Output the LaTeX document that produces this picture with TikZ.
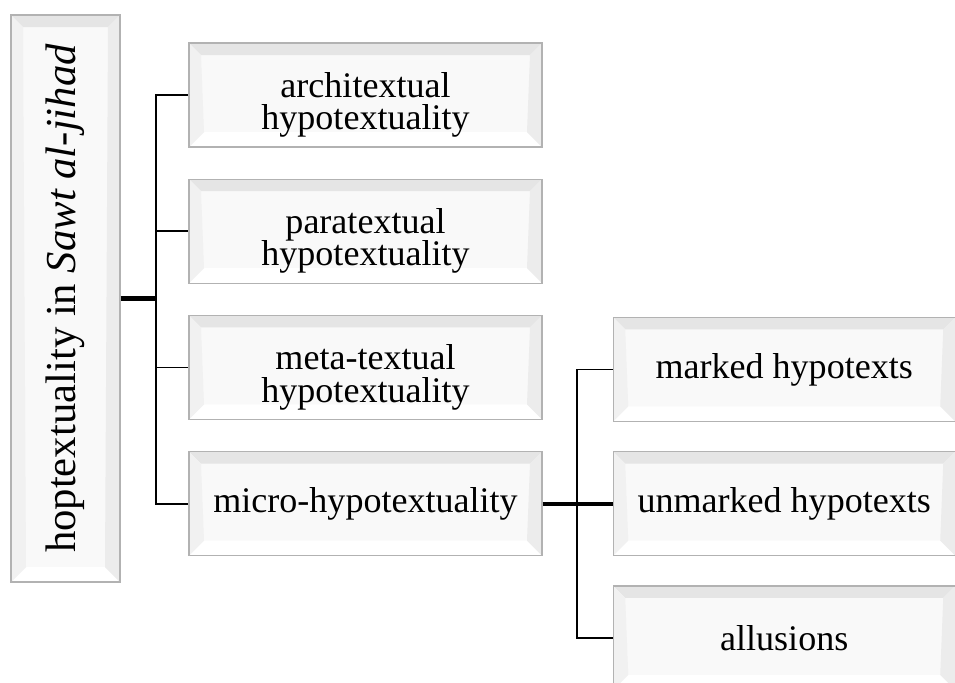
\documentclass[tikz,border=0pt]{standalone}
\usepackage{fontspec}
\setmainfont{Liberation Serif}
\usetikzlibrary{calc,positioning}
\newcommand{\boxfont}{\fontsize{20.5}{24}\selectfont}
\newcommand{\rootfont}{\fontsize{24.3}{26}\selectfont}
\newcommand{\twoline}[2]{\raisebox{-0.2cm}[\height][\depth]{\begin{tabular}{@{}c@{}}#1\\[-5.5pt]#2\end{tabular}}}
\tikzstyle{bevelbox}=[
    draw=gray!60, line width=0.7pt, fill=gray!5, inner sep=0pt,
    align=center, font=\boxfont,
    path picture={
        \coordinate (nw) at (path picture bounding box.north west);
        \coordinate (ne) at (path picture bounding box.north east);
        \coordinate (sw) at (path picture bounding box.south west);
        \coordinate (se) at (path picture bounding box.south east);
        \fill[gray!20] (nw) -- (ne) -- ($(ne)+(-0.24,-0.24)$) -- ($(nw)+(0.24,-0.24)$) -- cycle;
        \fill[white] (sw) -- (se) -- ($(se)+(-0.3,0.3)$) -- ($(sw)+(0.3,0.3)$) -- cycle;
        \fill[gray!11] (nw) -- ($(nw)+(0.24,-0.24)$) -- ($(sw)+(0.3,0.3)$) -- (sw) -- cycle;
        \fill[gray!15] (ne) -- ($(ne)+(-0.24,-0.24)$) -- ($(se)+(-0.3,0.3)$) -- (se) -- cycle;
    }]
\tikzstyle{mainbox}=[bevelbox, minimum width=7.06cm, minimum height=2.08cm]
\tikzstyle{subbox}=[bevelbox, minimum width=6.84cm, minimum height=2.08cm]
\tikzstyle{link}=[line width=1.1pt, black]
\tikzstyle{trunk}=[line width=2.4pt, black]

\begin{document}
\begin{tikzpicture}[node distance=0.62cm]
    \useasboundingbox (0,0) rectangle (19.1,-13.64);

    \node[bevelbox, font=\rootfont, minimum width=2.18cm, minimum height=11.34cm] (root) at (1.31,-5.97)
        {\rotatebox{90}{hoptextuality in \textit{Sawt al-jihad}}};

    \node[mainbox] (arch) at (7.31,-1.9) {\twoline{architextual}{hypotextuality}};
    \node[mainbox, below=of arch] (para) {\twoline{paratextual}{hypotextuality}};
    \node[mainbox, below=of para] (meta) {\twoline{meta-textual}{hypotextuality}};
    \node[mainbox, below=of meta] (micro) {micro-hypotextuality};

    \node[subbox, right=1.4cm of micro] (unmarked) {unmarked hypotexts};
    \node[subbox, above=0.58cm of unmarked] (marked) {marked hypotexts};
    \node[subbox, below=0.58cm of unmarked] (allusions) {allusions};

    \coordinate (j1) at ($(root.east)+(0.7,0)$);
    \coordinate (j2) at ($(micro.east)+(0.68,0)$);

    % root to first level
    \draw[trunk] (root.east) -- (j1);
    \draw[link] (j1) |- (arch.west);
    \draw[link] (j1) |- (para.west);
    \draw[link] (j1) |- (meta.west);
    \draw[link] (j1) |- (micro.west);

    % micro-hypotextuality to its parts
    \draw[trunk] (micro.east) -- (unmarked.west);
    \draw[link] (j2) |- (marked.west);
    \draw[link] (j2) |- (allusions.west);
\end{tikzpicture}
\end{document}
